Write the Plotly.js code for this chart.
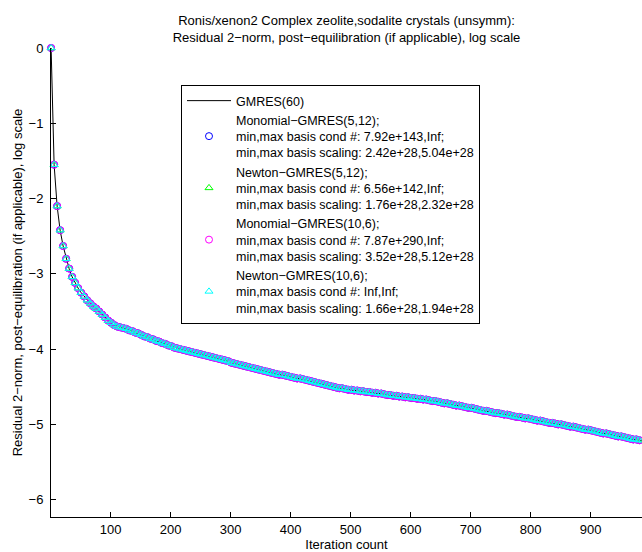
<!DOCTYPE html>
<html>
<head>
<meta charset="utf-8">
<script src="https://cdn.plot.ly/plotly-3.0.1.min.js"></script>
<style>html,body{margin:0;padding:0;background:#fff;}</style>
</head>
<body>
<div id="chart" style="width:642px;height:552px;"></div>
<script>
// Iteration counts at which the residual is sampled (every 5 iterations)
const iterations = [1,6,11,16,21,26,31,36,41,46,51,56,61,66,71,76,81,86,91,96,
101,106,111,116,121,126,131,136,141,146,151,156,161,166,171,176,181,186,191,196,
201,206,211,216,221,226,231,236,241,246,251,256,261,266,271,276,281,286,291,296,
301,306,311,316,321,326,331,336,341,346,351,356,361,366,371,376,381,386,391,396,
401,406,411,416,421,426,431,436,441,446,451,456,461,466,471,476,481,486,491,496,
501,506,511,516,521,526,531,536,541,546,551,556,561,566,571,576,581,586,591,596,
601,606,611,616,621,626,631,636,641,646,651,656,661,666,671,676,681,686,691,696,
701,706,711,716,721,726,731,736,741,746,751,756,761,766,771,776,781,786,791,796,
801,806,811,816,821,826,831,836,841,846,851,856,861,866,871,876,881,886,891,896,
901,906,911,916,921,926,931,936,941,946,951,956,961,966,971,976,981,986];

// log10 of residual 2-norm
const logResidual = [0,-1.55,-2.10,-2.42,-2.63,-2.80,-2.93,-3.04,-3.12,-3.19,-3.25,-3.30,-3.35,-3.39,-3.43,-3.46,-3.50,-3.54,-3.58,-3.62,
-3.65,-3.68,-3.70,-3.71,-3.72,-3.73,-3.75,-3.76,-3.78,-3.79,-3.81,-3.83,-3.84,-3.86,-3.87,-3.89,-3.90,-3.92,-3.93,-3.95,
-3.96,-3.98,-3.99,-4.00,-4.01,-4.02,-4.03,-4.04,-4.05,-4.06,-4.07,-4.08,-4.09,-4.10,-4.11,-4.12,-4.13,-4.14,-4.15,-4.16,
-4.18,-4.19,-4.20,-4.21,-4.22,-4.23,-4.24,-4.25,-4.26,-4.27,-4.28,-4.29,-4.30,-4.31,-4.32,-4.33,-4.34,-4.34,-4.35,-4.36,
-4.37,-4.38,-4.39,-4.39,-4.40,-4.41,-4.42,-4.43,-4.44,-4.45,-4.46,-4.47,-4.48,-4.49,-4.50,-4.51,-4.52,-4.52,-4.53,-4.54,
-4.54,-4.55,-4.55,-4.56,-4.56,-4.57,-4.57,-4.58,-4.58,-4.59,-4.59,-4.60,-4.61,-4.61,-4.62,-4.62,-4.63,-4.63,-4.64,-4.64,
-4.65,-4.65,-4.66,-4.66,-4.67,-4.67,-4.68,-4.69,-4.69,-4.70,-4.71,-4.72,-4.72,-4.73,-4.74,-4.75,-4.75,-4.76,-4.77,-4.78,
-4.78,-4.79,-4.80,-4.81,-4.82,-4.82,-4.83,-4.84,-4.85,-4.85,-4.86,-4.87,-4.87,-4.88,-4.89,-4.90,-4.90,-4.91,-4.92,-4.92,
-4.93,-4.94,-4.95,-4.95,-4.96,-4.97,-4.98,-4.98,-4.99,-5.00,-5.00,-5.01,-5.02,-5.03,-5.03,-5.04,-5.05,-5.06,-5.07,-5.07,
-5.08,-5.09,-5.10,-5.11,-5.12,-5.12,-5.13,-5.14,-5.15,-5.16,-5.16,-5.17,-5.18,-5.19,-5.20,-5.20,-5.21,-5.22];

const seriesNames = [
  "GMRES(60)",
  "Monomial\u2212GMRES(5,12);<br>min,max basis cond #: 7.92e+143,Inf;<br>min,max basis scaling: 2.42e+28,5.04e+28",
  "Newton\u2212GMRES(5,12);<br>min,max basis cond #: 6.56e+142,Inf;<br>min,max basis scaling: 1.76e+28,2.32e+28",
  "Monomial\u2212GMRES(10,6);<br>min,max basis cond #: 7.87e+290,Inf;<br>min,max basis scaling: 3.52e+28,5.12e+28",
  "Newton\u2212GMRES(10,6);<br>min,max basis cond #: Inf,Inf;<br>min,max basis scaling: 1.66e+28,1.94e+28"
];
const markerSymbols = ["circle-open","triangle-up-open","circle-open","triangle-up-open"];
const markerColors = ["#0000ff","#00ff00","#ff00ff","#00ffff"];

const xTicks = [100,200,300,400,500,600,700,800,900];
const yTicks = [0,-1,-2,-3,-4,-5,-6];

const FONT = "Liberation Sans, Arial, Helvetica, sans-serif";
const FS = 13;

const traces = [{
  x: iterations, y: logResidual, type: "scatter", mode: "lines",
  name: seriesNames[0], line: {color: "#000", width: 1}, cliponaxis: false
}];
for (let i = 0; i < 4; i++) {
  traces.push({
    x: iterations, y: logResidual, type: "scatter", mode: "markers",
    name: seriesNames[i + 1], cliponaxis: false,
    marker: {symbol: markerSymbols[i], color: markerColors[i], size: 7, line: {width: 1, color: markerColors[i]}}
  });
}

const layout = {
  width: 642, height: 552,
  margin: {l: 51, r: 0, t: 48, b: 35},
  paper_bgcolor: "#fff", plot_bgcolor: "#fff",
  font: {family: FONT, size: FS, color: "#000"},
  title: {
    text: "Ronis/xenon2 Complex zeolite,sodalite crystals (unsymm):<br>Residual 2\u2212norm, post\u2212equilibration (if applicable), log scale",
    font: {family: FONT, size: FS, color: "#000"},
    x: 0.5, xref: "paper", y: 1 - 25 / 552, yref: "container", yanchor: "middle"
  },
  xaxis: {
    range: [0.8, 985.5], tickvals: xTicks, ticktext: xTicks.map(String),
    ticks: "inside", ticklen: 5, tickcolor: "#000", showline: true, linecolor: "#000", linewidth: 1,
    showgrid: false, zeroline: false, mirror: false,
    tickfont: {family: FONT, size: FS, color: "#000"},
    title: {text: "Iteration count", font: {family: FONT, size: FS, color: "#000"}, standoff: 0},
    automargin: false
  },
  yaxis: {
    range: [-6.23, 0], tickvals: yTicks, ticktext: yTicks.map(v => v === 0 ? "0" : "\u2212" + Math.abs(v)),
    ticks: "inside", ticklen: 5, tickcolor: "#000", showline: true, linecolor: "#000", linewidth: 1,
    showgrid: false, zeroline: false, mirror: false, ticklabelstandoff: 4,
    tickfont: {family: FONT, size: FS, color: "#000"},
    title: {text: "Residual 2\u2212norm, post\u2212equilibration (if applicable), log scale", font: {family: FONT, size: FS, color: "#000"}, standoff: 3},
    automargin: false
  },
  showlegend: true,
  legend: {
    x: (181 - 51) / 591, xanchor: "left", y: 1 - (85 - 48) / 469, yanchor: "top",
    bgcolor: "#fff", bordercolor: "#000", borderwidth: 1,
    font: {family: FONT, size: 12.5, color: "#000"},
    tracegroupgap: 0, itemwidth: 44, valign: "middle"
  }
};

Plotly.newPlot("chart", traces, layout, {displayModeBar: false, staticPlot: true});
</script>
</body>
</html>
